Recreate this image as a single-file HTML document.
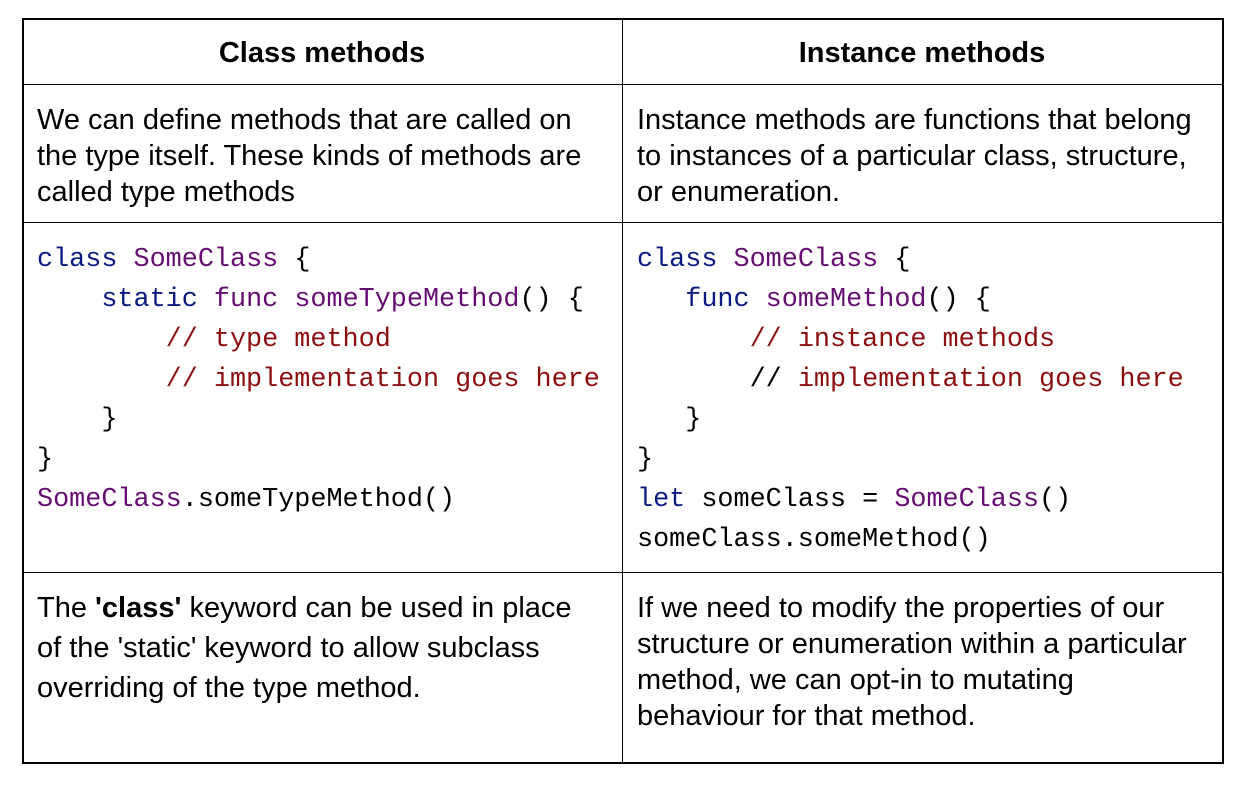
<!DOCTYPE html>
<html><head><meta charset="utf-8"><style>
body{margin:0;width:1246px;height:786px;background:#fff;position:relative;overflow:hidden;font-family:"Liberation Sans",Arial,sans-serif;color:#000}
.l{position:absolute;background:#000}
.t{position:absolute;white-space:pre;font-size:29px;line-height:36px}
.c{position:absolute;white-space:pre;font-family:"Liberation Mono",monospace;font-size:26.8px;line-height:40px}
.h{position:absolute;font-weight:bold;font-size:29px;width:600px;text-align:center;top:36px;line-height:34px}
.k{color:#0b1a80}.p{color:#660d73}.r{color:#8b0f0f}
</style></head><body>
<div class="l" style="left:22px;top:18px;width:1202px;height:2px"></div>
<div class="l" style="left:22px;top:84px;width:1202px;height:1px"></div>
<div class="l" style="left:22px;top:222px;width:1202px;height:1px"></div>
<div class="l" style="left:22px;top:572px;width:1202px;height:1px"></div>
<div class="l" style="left:22px;top:762px;width:1202px;height:2px"></div>
<div class="l" style="left:22px;top:18px;width:2px;height:746px"></div>
<div class="l" style="left:622px;top:18px;width:1px;height:746px"></div>
<div class="l" style="left:1222px;top:18px;width:2px;height:746px"></div>

<div class="h" style="left:22px">Class methods</div>
<div class="h" style="left:622px">Instance methods</div>

<div class="t" style="left:37px;top:102px">We can define methods that are called on
the type itself. These kinds of methods are
called type methods</div>
<div class="t" style="left:637px;top:102px">Instance methods are functions that belong
to instances of a particular class, structure,
or enumeration.</div>

<div class="c" style="left:37px;top:240px"><span class="k">class</span> <span class="p">SomeClass</span> {
    <span class="k">static</span> <span class="p">func someTypeMethod</span>() {
        <span class="r">// type method</span>
        <span class="r">// implementation goes here</span>
    }
}
<span class="p">SomeClass</span>.someTypeMethod()</div>

<div class="c" style="left:637px;top:240px"><span class="k">class</span> <span class="p">SomeClass</span> {
   <span class="k">func</span> <span class="p">someMethod</span>() {
       <span class="r">// instance methods</span>
       // <span class="r">implementation goes here</span>
   }
}
<span class="k">let</span> someClass = <span class="p">SomeClass</span>()
someClass.someMethod()</div>

<div class="t" style="left:37px;top:588px;line-height:40px">The <b>'class'</b> keyword can be used in place
of the 'static' keyword to allow subclass
overriding of the type method.</div>
<div class="t" style="left:637px;top:590px">If we need to modify the properties of our
structure or enumeration within a particular
method, we can opt-in to mutating
behaviour for that method.</div>
</body></html>
